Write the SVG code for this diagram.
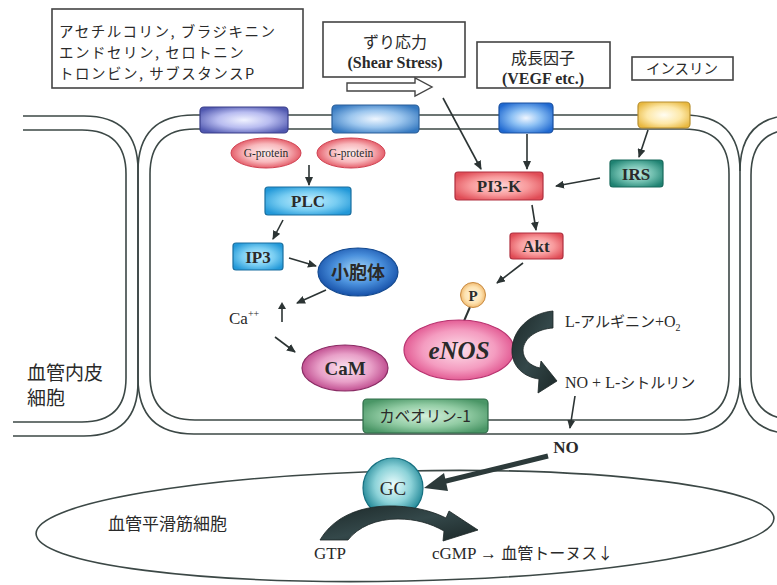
<svg xmlns="http://www.w3.org/2000/svg" width="777" height="585" viewBox="0 0 777 585">
<defs>
<radialGradient id="gPur" cx="50%" cy="50%" r="60%"><stop offset="0" stop-color="#f0f2ff"/><stop offset="0.5" stop-color="#b8bcf0"/><stop offset="1" stop-color="#5058b0"/></radialGradient>
<radialGradient id="gBlu" cx="50%" cy="50%" r="60%"><stop offset="0" stop-color="#eef6ff"/><stop offset="0.5" stop-color="#9cc6ee"/><stop offset="1" stop-color="#3478c0"/></radialGradient>
<radialGradient id="gBlu2" cx="50%" cy="50%" r="60%"><stop offset="0" stop-color="#f0f6ff"/><stop offset="0.45" stop-color="#8cc0f4"/><stop offset="1" stop-color="#1f68d0"/></radialGradient>
<radialGradient id="gYel" cx="50%" cy="50%" r="60%"><stop offset="0" stop-color="#fffdf2"/><stop offset="0.55" stop-color="#fde8a8"/><stop offset="1" stop-color="#e8b840"/></radialGradient>
<radialGradient id="gRedE" cx="50%" cy="50%" r="55%"><stop offset="0" stop-color="#fff2f2"/><stop offset="0.55" stop-color="#f8b8bc"/><stop offset="1" stop-color="#e04a58"/></radialGradient>
<radialGradient id="gCyan" cx="50%" cy="50%" r="60%"><stop offset="0" stop-color="#c8f0ff"/><stop offset="0.55" stop-color="#78cdf2"/><stop offset="1" stop-color="#2298d8"/></radialGradient>
<radialGradient id="gRed" cx="50%" cy="50%" r="60%"><stop offset="0" stop-color="#ffd8d8"/><stop offset="0.55" stop-color="#f89a9c"/><stop offset="1" stop-color="#e04c56"/></radialGradient>
<radialGradient id="gTeal" cx="50%" cy="50%" r="60%"><stop offset="0" stop-color="#c8eee6"/><stop offset="0.55" stop-color="#6cbcac"/><stop offset="1" stop-color="#1f8272"/></radialGradient>
<radialGradient id="gVes" cx="50%" cy="45%" r="55%"><stop offset="0" stop-color="#a8d8f8"/><stop offset="0.55" stop-color="#4a90dc"/><stop offset="1" stop-color="#1650a8"/></radialGradient>
<radialGradient id="gCaM" cx="50%" cy="50%" r="55%"><stop offset="0" stop-color="#fbe4f0"/><stop offset="0.55" stop-color="#e8a0c8"/><stop offset="1" stop-color="#b83c84"/></radialGradient>
<radialGradient id="gNOS" cx="50%" cy="50%" r="55%"><stop offset="0" stop-color="#fde0ea"/><stop offset="0.6" stop-color="#f49cc0"/><stop offset="1" stop-color="#de4a88"/></radialGradient>
<radialGradient id="gP" cx="50%" cy="50%" r="55%"><stop offset="0" stop-color="#fff6e4"/><stop offset="0.6" stop-color="#fde2b0"/><stop offset="1" stop-color="#eeb060"/></radialGradient>
<radialGradient id="gCav" cx="50%" cy="50%" r="60%"><stop offset="0" stop-color="#d4f0dc"/><stop offset="0.55" stop-color="#92cca4"/><stop offset="1" stop-color="#4a9666"/></radialGradient>
<radialGradient id="gGC" cx="50%" cy="45%" r="55%"><stop offset="0" stop-color="#eefefe"/><stop offset="0.55" stop-color="#8cd2d8"/><stop offset="1" stop-color="#1c8494"/></radialGradient>
<linearGradient id="gDark" x1="0" y1="0" x2="1" y2="1"><stop offset="0" stop-color="#1c2828"/><stop offset="0.5" stop-color="#34484a"/><stop offset="1" stop-color="#1c2828"/></linearGradient>
<marker id="ah" markerUnits="userSpaceOnUse" markerWidth="9" markerHeight="8" refX="8" refY="4" orient="auto"><path d="M0,0 L9,4 L0,8 Z" fill="#2c3434"/></marker>
</defs>
<style>
.mem{fill:none;stroke:#3c4846;stroke-width:1.6}
.box{fill:#fff;stroke:#444;stroke-width:1.6}
.jp{font-family:"Noto Sans CJK JP","Noto Sans",sans-serif;fill:#2a2a2a}
.sf{font-family:"Liberation Serif","Noto Sans CJK JP",serif;fill:#2a2a2a}
.b{font-weight:bold}
.arr{fill:none;stroke:#2c3434;stroke-width:1.6;marker-end:url(#ah)}
.dark{fill:url(#gDark);stroke:#1c2626;stroke-width:0.8}
</style>
<rect width="777" height="585" fill="#fff"/>

<g id="membranes">
<path class="mem" d="M23 116 H84 Q138 116 138 170 V382 Q138 436 84 436 H13"/>
<path class="mem" d="M23 130 H82 Q126 130 126 174 V378 Q126 422 82 422 H13"/>
<path class="mem" d="M194 115 H684 Q740 115 740 171 V378 Q740 434 684 434 H194 Q138 434 138 378 V171 Q138 115 194 115 Z"/>
<path class="mem" d="M195 129 H684 Q729 129 729 174 V375 Q729 420 684 420 H195 Q150 420 150 375 V174 Q150 129 195 129 Z"/>
<path class="mem" d="M740 171 Q740 115 796 115"/>
<path class="mem" d="M751 175 Q751 129 797 129 M751 175 V375 Q751 420 797 420"/>
<path class="mem" d="M740 378 Q740 434 796 434"/>
</g>

<g id="smooth-muscle-cell">
<ellipse cx="405" cy="526" rx="369" ry="55" transform="rotate(-1.2 405 526)" fill="none" stroke="#3c4846" stroke-width="1.6"/>
<text class="jp" x="108" y="530" font-size="17">血管平滑筋細胞</text>
</g>

<g id="label-endothelial">
<text class="jp" x="27" y="380" font-size="19">血管内皮</text>
<text class="jp" x="27" y="405" font-size="19">細胞</text>
</g>

<g id="agonists">
<rect class="box" x="52" y="9" width="251" height="79"/>
<text class="jp" x="59" y="37" font-size="14.5" letter-spacing="1.5">アセチルコリン, ブラジキニン</text>
<text class="jp" x="59" y="58" font-size="14.5" letter-spacing="1.5">エンドセリン, セロトニン</text>
<text class="jp" x="59" y="79" font-size="14.5" letter-spacing="1.5">トロンビン, サブスタンスP</text>
</g>

<g id="shear-stress">
<rect class="box" x="323" y="22" width="142" height="55"/>
<text class="jp" x="395" y="48" font-size="16" text-anchor="middle">ずり応力</text>
<text class="sf b" x="395" y="68" font-size="16" text-anchor="middle">(Shear Stress)</text>
<path d="M347 83 H415 V78 L432 87 L415 96 V91 H347 Z" fill="#fff" stroke="#444" stroke-width="1.4"/>
</g>

<g id="growth-factor">
<rect class="box" x="477" y="42" width="133" height="46"/>
<text class="jp" x="543" y="64" font-size="16" text-anchor="middle">成長因子</text>
<text class="sf b" x="543" y="84" font-size="16" text-anchor="middle">(VEGF etc.)</text>
</g>

<g id="insulin">
<rect class="box" x="632" y="57" width="101" height="23"/>
<text class="jp" x="682" y="74" font-size="14.5" text-anchor="middle">インスリン</text>
</g>

<g id="receptor-1"><rect x="200" y="107" width="88" height="26" rx="4" fill="url(#gPur)" stroke="#3a3f8a" stroke-width="1.2"/></g>
<g id="receptor-2"><rect x="332" y="105" width="87" height="28" rx="4" fill="url(#gBlu)" stroke="#2a5f9a" stroke-width="1.2"/></g>
<g id="receptor-vegf"><rect x="499" y="103" width="54" height="30" rx="4" fill="url(#gBlu2)" stroke="#1a50a0" stroke-width="1.2"/></g>
<g id="receptor-insulin"><rect x="638" y="102" width="52" height="26" rx="4" fill="url(#gYel)" stroke="#b89030" stroke-width="1.2"/></g>

<g id="g-protein-1">
<ellipse cx="266" cy="153" rx="35" ry="15" fill="url(#gRedE)" stroke="#d04050" stroke-width="1"/>
<text class="sf" x="266" y="157" font-size="11.5" text-anchor="middle">G-protein</text>
</g>
<g id="g-protein-2">
<ellipse cx="351" cy="153" rx="34" ry="15" fill="url(#gRedE)" stroke="#d04050" stroke-width="1"/>
<text class="sf" x="351" y="157" font-size="11.5" text-anchor="middle">G-protein</text>
</g>

<g id="plc">
<rect x="265" y="187" width="86" height="28" rx="3" fill="url(#gCyan)" stroke="#1a6fa0" stroke-width="1.2"/>
<text class="sf b" x="308" y="207" font-size="17" text-anchor="middle">PLC</text>
</g>
<g id="ip3">
<rect x="233" y="243" width="50" height="27" rx="3" fill="url(#gCyan)" stroke="#1a6fa0" stroke-width="1.2"/>
<text class="sf b" x="258" y="263" font-size="17" text-anchor="middle">IP3</text>
</g>
<g id="er">
<ellipse cx="358" cy="272" rx="40" ry="24" fill="url(#gVes)" stroke="#144a90" stroke-width="1.2"/>
<text class="jp b" x="358" y="279" font-size="18" text-anchor="middle">小胞体</text>
</g>
<g id="ca">
<text class="sf" x="229" y="324" font-size="17">Ca<tspan font-size="10" dy="-7">++</tspan></text>
<path d="M282 322 V305" fill="none" stroke="#2c3434" stroke-width="1.6"/>
<path d="M278 309 L282 302 L286 309 Z" fill="#2c3434"/>
</g>
<g id="cam">
<ellipse cx="345" cy="368" rx="43" ry="23" fill="url(#gCaM)" stroke="#8a2c64" stroke-width="1.2"/>
<text class="sf b" x="345" y="375" font-size="19" text-anchor="middle">CaM</text>
</g>

<g id="pi3k">
<rect x="455" y="172" width="88" height="28" rx="3" fill="url(#gRed)" stroke="#b03040" stroke-width="1.2"/>
<text class="sf b" x="499" y="192" font-size="17" text-anchor="middle">PI3-K</text>
</g>
<g id="irs">
<rect x="610" y="160" width="53" height="27" rx="3" fill="url(#gTeal)" stroke="#186a5c" stroke-width="1.2"/>
<text class="sf b" x="636" y="180" font-size="17" text-anchor="middle">IRS</text>
</g>
<g id="akt">
<rect x="510" y="233" width="53" height="26" rx="3" fill="url(#gRed)" stroke="#b03040" stroke-width="1.2"/>
<text class="sf b" x="536" y="252" font-size="17" text-anchor="middle">Akt</text>
</g>

<g id="enos">
<line x1="470" y1="307" x2="464" y2="321" stroke="#2c3434" stroke-width="2"/>
<circle cx="473" cy="295" r="12.5" fill="url(#gP)" stroke="#c88a40" stroke-width="1"/>
<text class="sf b" x="473" y="301" font-size="15" text-anchor="middle">P</text>
<ellipse cx="459" cy="350" rx="55" ry="30" fill="url(#gNOS)" stroke="#b83470" stroke-width="1.2"/>
<text class="sf b" x="459" y="359" font-size="25" font-style="italic" text-anchor="middle">eNOS</text>
</g>

<g id="enos-reaction">
<path class="dark" d="M553 311 V328 C538 329 524 337 523 350 C523 359 530 366 540 368 L541 361 L557 381 L538 393 L539 379 C524 377 513 367 512 353 C511 330 530 313 553 311 Z"/>
<text class="sf" x="565" y="327" font-size="16">L-<tspan class="jp" font-size="15">アルギニン</tspan>+O<tspan font-size="10" dy="4">2</tspan></text>
<text class="sf" x="565" y="388" font-size="16">NO + L-<tspan class="jp" font-size="15">シトルリン</tspan></text>
</g>

<g id="caveolin">
<rect x="363" y="399" width="125" height="34" rx="4" fill="url(#gCav)" stroke="#2e6c48" stroke-width="1.2"/>
<text class="jp" x="425" y="422" font-size="15.5" text-anchor="middle">カベオリン-1</text>
</g>

<g id="no">
<text class="sf b" x="566" y="453" font-size="17" text-anchor="middle">NO</text>
</g>

<g id="gc">
<circle cx="393" cy="488" r="30" fill="url(#gGC)" stroke="#167080" stroke-width="1.2"/>
<text class="sf" x="393" y="495" font-size="19" text-anchor="middle">GC</text>
</g>

<g id="gc-reaction">
<path class="dark" d="M320 540 C334 516 362 505 395 506 C418 507 434 512 446 518 L449 511 L478 530 L443 541 L444 531 C430 523 415 519 398 519 C376 519 358 527 348 540 Z"/>
<text class="sf" x="330" y="559" font-size="17" text-anchor="middle">GTP</text>
<text class="sf" x="432" y="559" font-size="17">cGMP → <tspan class="jp" font-size="16">血管トーヌス↓</tspan></text>
</g>

<g id="connectors">
<path class="arr" d="M309 165 V185"/>
<path class="arr" d="M283 220 L273 239"/>
<path class="arr" d="M289 258 L316 266"/>
<path class="arr" d="M326 290 L297 303"/>
<path class="arr" d="M275 337 L295 352"/>
<path class="arr" d="M443 98 L481 169"/>
<path class="arr" d="M527 134 V169"/>
<path class="arr" d="M648 130 L639 157"/>
<path class="arr" d="M600 178 L556 186"/>
<path class="arr" d="M532 205 L536 230"/>
<path class="arr" d="M523 263 L497 283"/>
<path class="arr" d="M575 396 L570 428"/>
<path d="M548 456 L442 482" fill="none" stroke="#2c3a3a" stroke-width="5"/>
<path d="M424 488 L444 473 L448 491 Z" fill="#2c3a3a"/>
</g>
</svg>
